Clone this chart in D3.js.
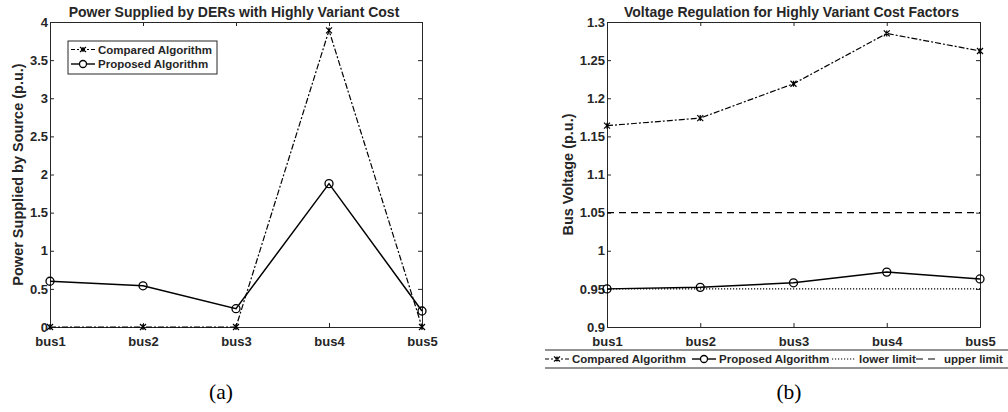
<!DOCTYPE html>
<html>
<head>
<meta charset="utf-8">
<script src="https://cdn.jsdelivr.net/npm/d3@7"></script>
<style>
  body { margin: 0; background: #fff; }
  text { font-family: "Liberation Sans", Arial, sans-serif; font-weight: bold; fill: #262626; }
  .caption { font-family: "Liberation Serif", "Times New Roman", serif; font-weight: normal; fill: #000; }
</style>
</head>
<body>
<svg id="chart" width="1008" height="412"></svg>
<script>
const buses = ['bus1', 'bus2', 'bus3', 'bus4', 'bus5']

// panel (a): power supplied
const powerCompared = [0, 0, 0, 3.89, 0]
const powerProposed = [0.6, 0.54, 0.24, 1.88, 0.21]
const powerTicks = [0, 0.5, 1, 1.5, 2, 2.5, 3, 3.5, 4]

// panel (b): bus voltage
const voltCompared = [1.164, 1.174, 1.219, 1.285, 1.262]
const voltProposed = [0.95, 0.952, 0.958, 0.972, 0.963]
const voltTicks = [0.9, 0.95, 1, 1.05, 1.1, 1.15, 1.2, 1.25, 1.3]
const lowerLimit = 0.95
const upperLimit = 1.05

const svg = d3.select('#chart')

function panel(opts) {
  const w = opts.right - opts.left
  const h = opts.bottom - opts.top
  const x = d3.scalePoint().domain(buses).range([0, w])
  const y = d3.scaleLinear().domain(opts.domain).range([h, 0])

  const g = svg.append('g')
    .attr('transform', `translate(${opts.left}, ${opts.top})`)

  // axes, ticks pointing inward like matlab
  const fmt = d => String(d)
  g.append('g')
    .attr('transform', `translate(0, ${h})`)
    .call(d3.axisBottom(x).tickSize(-4).tickPadding(10))
  g.append('g')
    .call(d3.axisLeft(y).tickValues(opts.ticks).tickFormat(fmt).tickSize(-4).tickPadding(2))
  g.append('g')
    .call(d3.axisTop(x).tickSize(-4).tickFormat(''))
  g.append('g')
    .attr('transform', `translate(${w}, 0)`)
    .call(d3.axisRight(y).tickValues(opts.ticks).tickSize(-4).tickFormat(''))

  g.selectAll('.domain').attr('stroke', '#262626')
  g.selectAll('.tick line').attr('stroke', '#262626')
  g.selectAll('.tick text').style('font-size', '13px').attr('fill', '#262626')

  // title and y label
  g.append('text')
    .attr('x', w / 2 - 2).attr('y', -5)
    .attr('text-anchor', 'middle')
    .style('font-size', '14px')
    .text(opts.title)
  g.append('text')
    .attr('transform', `translate(${opts.ylabelX}, ${h / 2}) rotate(-90)`)
    .attr('text-anchor', 'middle')
    .style('font-size', '14.5px')
    .text(opts.ylabel)

  const line = d3.line().x((d, i) => x(buses[i])).y(d => y(d))

  ;(opts.limits || []).forEach(l => {
    g.append('line')
      .attr('x1', 0).attr('x2', w)
      .attr('y1', y(l.value)).attr('y2', y(l.value))
      .attr('stroke', '#000').attr('stroke-width', 1.2)
      .attr('stroke-dasharray', l.dash)
  })

  g.append('path').datum(opts.compared)
    .attr('d', line).attr('fill', 'none')
    .attr('stroke', '#000').attr('stroke-width', 1.2)
    .attr('stroke-dasharray', '6,2,2,2')
  g.append('path').datum(opts.proposed)
    .attr('d', line).attr('fill', 'none')
    .attr('stroke', '#000').attr('stroke-width', 1.5)

  g.selectAll('.xm').data(opts.compared).enter()
    .append('path')
    .attr('transform', (d, i) => `translate(${x(buses[i])}, ${y(d)})`)
    .attr('d', 'M-3,-3L3,3M-3,3L3,-3M0,-3L0,3')
    .attr('stroke', '#000').attr('stroke-width', 1.2)
  g.selectAll('.om').data(opts.proposed).enter()
    .append('circle')
    .attr('cx', (d, i) => x(buses[i])).attr('cy', d => y(d))
    .attr('r', 4).attr('fill', 'none')
    .attr('stroke', '#000').attr('stroke-width', 1.3)

  return g
}

panel({
  left: 50, right: 422, top: 22, bottom: 327,
  domain: [0, 4], ticks: powerTicks,
  compared: powerCompared, proposed: powerProposed,
  title: 'Power Supplied by DERs with Highly Variant Cost',
  ylabel: 'Power Supplied by Source (p.u.)', ylabelX: -27
})

panel({
  left: 607, right: 980, top: 22, bottom: 327,
  domain: [0.9, 1.3], ticks: voltTicks,
  compared: voltCompared, proposed: voltProposed,
  limits: [{ value: lowerLimit, dash: '1.2,1.8' }, { value: upperLimit, dash: '7,5' }],
  title: 'Voltage Regulation for Highly Variant Cost Factors',
  ylabel: 'Bus Voltage (p.u.)', ylabelX: -34
})

function legendItem(g, x0, y0, kind, label, textGap) {
  const s = g.append('g').attr('transform', `translate(${x0}, ${y0})`)
  const dash = { compared: '4,2,2,2', proposed: null, lower: '1.2,1.8', upper: '7,5' }[kind]
  s.append('line').attr('x1', 0).attr('x2', 24).attr('y1', 0).attr('y2', 0)
    .attr('stroke', '#000').attr('stroke-width', kind === 'proposed' ? 1.4 : 1.2)
    .attr('stroke-dasharray', dash)
  if (kind === 'compared') {
    s.append('path').attr('d', 'M9,-2.5L15,2.5M9,2.5L15,-2.5M12,-2.5L12,2.5')
      .attr('stroke', '#000').attr('stroke-width', 1.2)
  }
  if (kind === 'proposed') {
    s.append('circle').attr('cx', 12).attr('r', 3.5)
      .attr('fill', '#fff').attr('stroke', '#000').attr('stroke-width', 1.3)
  }
  s.append('text').attr('x', 24 + (textGap || 3)).attr('y', 4.2)
    .style('font-size', '11.5px').text(label)
}

// legend (a): box inside top-left
const la = svg.append('g').attr('transform', 'translate(68, 41)')
la.append('rect').attr('width', 149).attr('height', 33)
  .attr('fill', '#fff').attr('stroke', '#262626').attr('stroke-width', 1)
legendItem(la, 3, 8.5, 'compared', 'Compared Algorithm')
legendItem(la, 3, 23, 'proposed', 'Proposed Algorithm')

// legend (b): horizontal strip below the axis
const lb = svg.append('g').attr('transform', 'translate(545, 350)')
lb.append('line').attr('x1', 0).attr('x2', 463).attr('stroke', '#262626')
lb.append('line').attr('x1', 0).attr('x2', 463).attr('y1', 18).attr('y2', 18).attr('stroke', '#262626')
legendItem(lb, 0, 9, 'compared', 'Compared Algorithm')
legendItem(lb, 147, 9, 'proposed', 'Proposed Algorithm')
legendItem(lb, 287, 9, 'lower', 'lower limit')
legendItem(lb, 371, 9, 'upper', 'upper limit', 4)

// captions
svg.append('text').attr('class', 'caption')
  .attr('x', 221).attr('y', 399).attr('text-anchor', 'middle')
  .style('font-size', '21.5px').text('(a)')
svg.append('text').attr('class', 'caption')
  .attr('x', 789).attr('y', 399).attr('text-anchor', 'middle')
  .style('font-size', '21.5px').text('(b)')
</script>
</body>
</html>
